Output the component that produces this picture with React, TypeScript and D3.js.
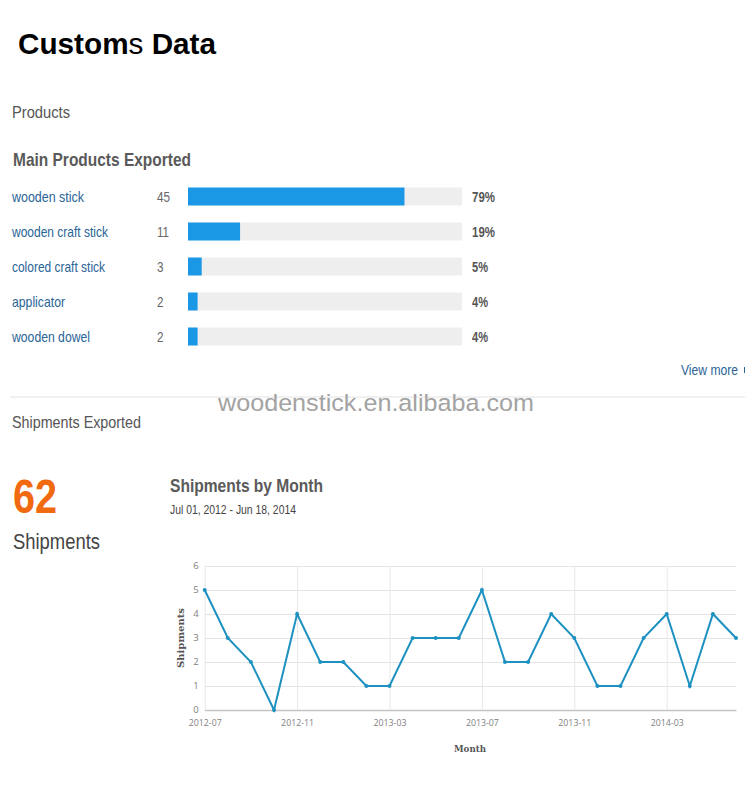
import React, { useEffect, useRef } from "react";
import * as d3 from "d3";

const products = ["wooden stick", "wooden craft stick", "colored craft stick", "applicator", "wooden dowel"];
const productCounts = [45, 11, 3, 2, 2];
const productShares = [79, 19, 5, 4, 4];
const productBars = [79, 19, 5, 3.5, 3.5];

const months = [
  "2012-07", "2012-08", "2012-09", "2012-10", "2012-11", "2012-12",
  "2013-01", "2013-02", "2013-03", "2013-04", "2013-05", "2013-06",
  "2013-07", "2013-08", "2013-09", "2013-10", "2013-11", "2013-12",
  "2014-01", "2014-02", "2014-03", "2014-04", "2014-05", "2014-06",
];
const shipments = [5, 3, 2, 0, 4, 2, 2, 1, 1, 3, 3, 3, 5, 2, 2, 4, 3, 1, 1, 3, 4, 1, 4, 3];
const monthTicks = ["2012-07", "2012-11", "2013-03", "2013-07", "2013-11", "2014-03"];
const shipmentTicks = [0, 1, 2, 3, 4, 5, 6];

// label widths, the original used a narrow face we don't have
const productLabelWidths = [72, 96, 93, 53, 78];
const countWidths = [13, 12, 6.5, 6.5, 6.5];
const shareWidths = [23, 23, 16, 16, 16];

const SANS = "'Liberation Sans', Arial, sans-serif";
const TICK = "'Open Sans', 'DejaVu Sans', sans-serif";
const SERIF = "'DejaVu Serif', serif";

const App = () => {
  const svgRef = useRef<SVGSVGElement>(null);

  useEffect(() => {
    const svg = d3.select(svgRef.current);
    svg.selectAll("*").remove();

    const text = (x: number, y: number, s: string, size: number, color: string, width: number, weight = "normal", font = SANS) => {
      const t = svg
        .append("text")
        .attr("x", x)
        .attr("y", y)
        .attr("font-family", font)
        .attr("font-size", size)
        .attr("font-weight", weight)
        .attr("fill", color)
        .text(s);
      if (width > 0) t.attr("textLength", width).attr("lengthAdjust", "spacingAndGlyphs");
      return t;
    };

    const title = text(18, 54, "", 30, "#000", 198, "bold");
    title.append("tspan").text("Custom");
    title.append("tspan").attr("font-weight", "normal").text("s");
    title.append("tspan").text(" Data");

    text(12, 118, "Products", 17, "#555", 58);
    text(13, 166, "Main Products Exported", 19, "#5a5a5a", 178, "bold");

    // bars
    const xBar = d3.scaleLinear().domain([0, 100]).range([188, 462]);
    const yBar = d3.scaleBand().domain(products).range([179, 354]).paddingInner(0.486).paddingOuter(0.243);

    products.forEach((p, i) => {
      const y = yBar(p)!;
      const mid = y + yBar.bandwidth() / 2 + 5;
      text(12, mid, p, 15, "#2a6496", productLabelWidths[i]);
      text(157, mid, String(productCounts[i]), 15, "#666", countWidths[i]);
      svg
        .append("rect")
        .attr("x", xBar(0))
        .attr("y", y)
        .attr("width", xBar(100) - xBar(0))
        .attr("height", yBar.bandwidth())
        .attr("fill", "#eeeeee");
      svg
        .append("rect")
        .attr("x", xBar(0))
        .attr("y", y)
        .attr("width", xBar(productBars[i]) - xBar(0))
        .attr("height", yBar.bandwidth())
        .attr("fill", "#1a98e6");
      text(472, mid, productShares[i] + "%", 15, "#555", shareWidths[i], "bold");
    });

    text(681, 375, "View more", 14, "#2a6496", 57);
    // clipped arrow icon after the link
    svg.append("line").attr("x1", 744.5).attr("x2", 744.5).attr("y1", 367).attr("y2", 373).attr("stroke", "#2a6496");

    svg.append("line").attr("x1", 10).attr("x2", 745).attr("y1", 397).attr("y2", 397).attr("stroke", "#e2e2e2");
    text(218, 411, "woodenstick.en.alibaba.com", 24.5, "#a3a3a3", 316);

    text(12, 428, "Shipments Exported", 17, "#555", 129);
    text(13, 513, "62", 48, "#f26a10", 44, "bold");
    text(13, 549, "Shipments", 22, "#444", 87);
    text(170, 492, "Shipments by Month", 19, "#5a5a5a", 153, "bold");
    text(170, 514, "Jul 01, 2012 - Jun 18, 2014", 13, "#444", 126);

    // line chart
    const x = d3.scalePoint().domain(months).range([204.7, 736]);
    const y = d3.scaleLinear().domain([0, 6]).range([710, 566]);

    const gy = svg
      .append("g")
      .attr("transform", "translate(204.7,0)")
      .call(
        d3
          .axisLeft(y)
          .tickValues(shipmentTicks)
          .tickSize(-(736 - 204.7))
          .tickPadding(6)
          .tickFormat(d3.format("d")),
      );
    gy.select(".domain").remove();
    gy.selectAll("line").attr("stroke", "#e4e4e4").attr("stroke-width", 1.2);
    gy.selectAll("text").attr("fill", "#808080").attr("font-size", 9.5).attr("font-family", TICK).attr("dy", "0.22em");

    const gx = svg
      .append("g")
      .attr("transform", "translate(0,710)")
      .call(d3.axisBottom(x).tickValues(monthTicks).tickSize(-144).tickSizeOuter(0).tickPadding(10));
    gx.select(".domain").attr("stroke", "#c4c4c4").attr("stroke-width", 1.6);
    gx.selectAll("line").attr("stroke", "#e8e8e8");
    gx.selectAll("text")
      .attr("fill", "#808080")
      .attr("font-size", 9)
      .attr("font-family", TICK)
      .attr("textLength", 33)
      .attr("lengthAdjust", "spacingAndGlyphs");

    const line = d3
      .line<number>()
      .x((_, i) => x(months[i])!)
      .y((d) => y(d));

    svg
      .append("path")
      .attr("d", line(shipments))
      .attr("fill", "none")
      .attr("stroke", "#1d91c0")
      .attr("stroke-width", 2);

    svg
      .append("g")
      .selectAll("circle")
      .data(shipments)
      .join("circle")
      .attr("cx", (_, i) => x(months[i])!)
      .attr("cy", (d) => y(d))
      .attr("r", 2)
      .attr("fill", "#1d91c0");

    text(0, 0, "Shipments", 10, "#555", 60, "bold", SERIF)
      .attr("text-anchor", "middle")
      .attr("transform", "translate(184,638) rotate(-90)");
    text(470, 752, "Month", 10, "#555", 32, "bold", SERIF).attr("text-anchor", "middle");
  }, []);

  return (
    <svg
      ref={svgRef}
      width={750}
      height={800}
      style={{ position: "absolute", left: 0, top: 0, background: "#fff" }}
    />
  );
};

export default App;
